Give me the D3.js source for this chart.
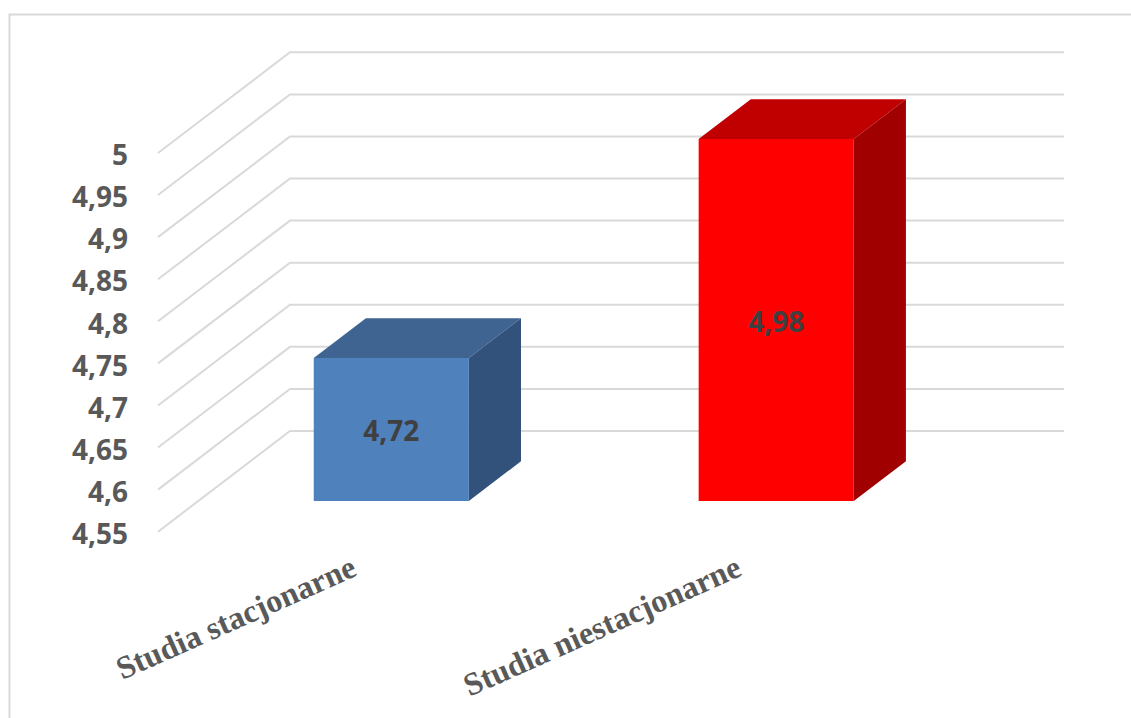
<!DOCTYPE html>
<html>
<head>
<meta charset="utf-8">
<script src="https://cdn.jsdelivr.net/npm/d3@7"></script>
<style>
  html, body { margin: 0; padding: 0; background: #fff; }
  svg { display: block; }
  .frame { fill: none; stroke: #d9d9d9; stroke-width: 2; }
  .grid { fill: none; stroke: #d9d9d9; stroke-width: 2; }
  .y-axis text { font: bold 28px "Open Sans", sans-serif; fill: #595959; }
  .cat-label { font: bold 32.2px "Liberation Serif", serif; fill: #595959; }
  .value-label { font: bold 28px "Open Sans", sans-serif; fill: #404040; text-anchor: middle; }
</style>
</head>
<body>
<div id="chart"></div>
<script>
const categories = ["Studia stacjonarne", "Studia niestacjonarne"];
const values = [4.72, 4.98];
const valueLabels = ["4,72", "4,98"];
const tickValues = [4.55, 4.6, 4.65, 4.7, 4.75, 4.8, 4.85, 4.9, 4.95, 5];
const tickLabels = ["4,55", "4,6", "4,65", "4,7", "4,75", "4,8", "4,85", "4,9", "4,95", "5"];
const frontColors = ["#4f81bd", "#ff0000"];
const topColors = ["#3f6491", "#c00000"];
const sideColors = ["#32527c", "#a00000"];

const width = 1131, height = 718;

// floor front edge, depth runs towards upper right
const plot = { left: 158, right: 932, top: 153, bottom: 531.7 };
const depth = { dx: 132, dy: -100.7 };
const barFront = 0.305, barBack = 0.7;

const svg = d3.select("#chart").append("svg")
  .attr("width", width)
  .attr("height", height)
  .attr("viewBox", `0 0 ${width} ${height}`);

const yScale = d3.scaleLinear()
  .domain([4.55, 5])
  .range([plot.bottom, plot.top]);

const xScale = d3.scaleBand()
  .domain(categories)
  .range([plot.left, plot.left + 771])
  .paddingInner(0.597)
  .paddingOuter(0.3);

const px = (x, d) => x + d * depth.dx;
const py = (y, d) => y + d * depth.dy;

// Rahmen
svg.append("path")
  .attr("class", "frame")
  .attr("d", `M9.5,${height} V14.5 H${width}`);

// Gitter
svg.append("g").selectAll("path")
  .data(tickValues)
  .enter()
  .append("path")
  .attr("class", "grid")
  .attr("d", v => d3.line()([
    [plot.left, yScale(v)],
    [px(plot.left, 1), py(yScale(v), 1)],
    [px(plot.right, 1), py(yScale(v), 1)]
  ]));

// Achse
const yAxis = svg.append("g")
  .attr("class", "y-axis")
  .attr("transform", `translate(${plot.left},0)`)
  .call(d3.axisLeft(yScale)
    .tickValues(tickValues)
    .tickSize(0)
    .tickPadding(30)
    .tickFormat((_, i) => tickLabels[i]));
yAxis.select(".domain").remove();
yAxis.selectAll("text").attr("dy", "0.42em");

// Balken
const bars = svg.append("g").selectAll("g")
  .data(categories)
  .enter()
  .append("g");

const corner = (i, side, level, d) => {
  const x0 = xScale(categories[i]) + side * xScale.bandwidth();
  return [px(x0, d), py(yScale(level), d)];
};

bars.append("path")
  .attr("fill", (_, i) => topColors[i])
  .attr("d", (_, i) => d3.line()([
    corner(i, 0, values[i], barFront),
    corner(i, 1, values[i], barFront),
    corner(i, 1, values[i], barBack),
    corner(i, 0, values[i], barBack)
  ]) + "Z");

bars.append("path")
  .attr("fill", (_, i) => sideColors[i])
  .attr("d", (_, i) => d3.line()([
    corner(i, 1, 4.55, barFront),
    corner(i, 1, values[i], barFront),
    corner(i, 1, values[i], barBack),
    corner(i, 1, 4.55, barBack)
  ]) + "Z");

bars.append("path")
  .attr("fill", (_, i) => frontColors[i])
  .attr("d", (_, i) => d3.line()([
    corner(i, 0, 4.55, barFront),
    corner(i, 1, 4.55, barFront),
    corner(i, 1, values[i], barFront),
    corner(i, 0, values[i], barFront)
  ]) + "Z");

bars.append("text")
  .attr("class", "value-label")
  .attr("x", (_, i) => corner(i, 0.5, 4.55, barFront)[0])
  .attr("y", (_, i) => (corner(i, 0, 4.55, barFront)[1] + corner(i, 0, values[i], barFront)[1]) / 2)
  .attr("dy", "0.42em")
  .text((_, i) => valueLabels[i]);

// Kategorien
svg.append("g").selectAll("text")
  .data(categories)
  .enter()
  .append("text")
  .attr("class", "cat-label")
  .attr("text-anchor", "end")
  .attr("transform", c => `translate(${px(xScale(c) + xScale.bandwidth() / 2, barFront) - 33},575) rotate(-24)`)
  .text(c => c);
</script>
</body>
</html>
